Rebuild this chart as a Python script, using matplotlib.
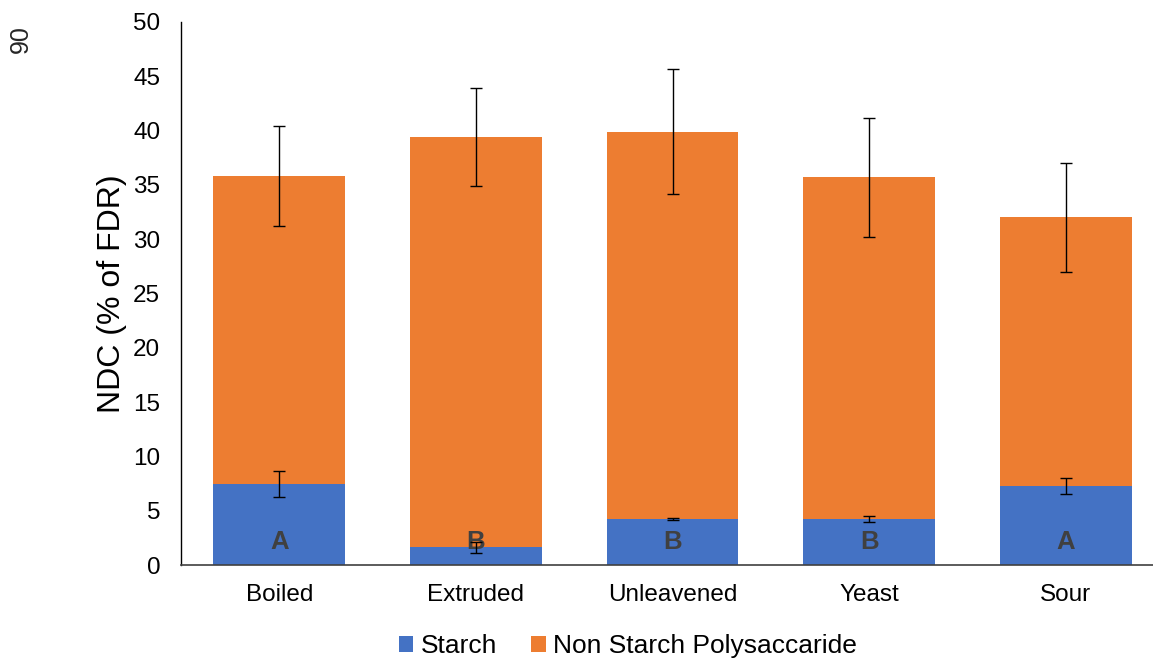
import numpy as np
import matplotlib.pyplot as plt

plt.rcParams['font.family'] = ['Liberation Sans', 'DejaVu Sans']

# --- data ---
categories = ['Boiled', 'Extruded', 'Unleavened', 'Yeast', 'Sour']
starch = [7.5, 1.65, 4.25, 4.25, 7.3]
starch_err = [1.2, 0.5, 0.12, 0.25, 0.72]
nsp = [28.3, 37.75, 35.65, 31.45, 24.7]
total_err = [4.6, 4.5, 5.75, 5.5, 5.0]
letters = ['A', 'B', 'B', 'B', 'A']

BLUE = '#4472C4'
ORANGE = '#ED7D31'

fig = plt.figure(figsize=(11.53, 6.61), dpi=100)
ax = fig.add_axes([181 / 1153, 1 - 565 / 661, (1164 - 181) / 1153, (565 - 22) / 661])

x = np.arange(len(categories))
width = 0.67
totals = np.array(starch) + np.array(nsp)

ax.bar(x, starch, width, color=BLUE, label='Starch', zorder=2)
ax.bar(x, nsp, width, bottom=starch, color=ORANGE, label='Non Starch Polysaccaride', zorder=2)

# letters inside the starch bars
for xi, lab in zip(x, letters):
    ax.text(xi, 2.15, lab, ha='center', va='center', fontsize=18.5,
            fontweight='bold', color='#404040', zorder=3)

# error bars
ax.errorbar(x, starch, yerr=starch_err, fmt='none', ecolor='black',
            elinewidth=1, capsize=4.5, capthick=1, zorder=4)
ax.errorbar(x, totals, yerr=total_err, fmt='none', ecolor='black',
            elinewidth=1, capsize=4.5, capthick=1, zorder=4)

ax.set_xlim(-0.5, 4.5)
ax.set_ylim(0, 50)
ax.set_yticks(range(0, 51, 5))
ax.set_xticks(x)
ax.set_xticklabels(categories)
ax.tick_params(axis='both', length=0, labelsize=17.5, colors='black')
ax.tick_params(axis='x', pad=14)
ax.tick_params(axis='y', pad=15)

ax.spines['top'].set_visible(False)
ax.spines['right'].set_visible(False)
ax.spines['left'].set_color('black')
ax.spines['left'].set_linewidth(1)
ax.spines['bottom'].set_color('#404040')
ax.spines['bottom'].set_linewidth(1.2)

ax.set_ylabel('NDC (% of FDR)', fontsize=23, labelpad=4)

fig.legend(loc='center', bbox_to_anchor=(628 / 1153, 1 - 646 / 661), ncol=2,
           frameon=False, fontsize=19, handlelength=0.55, handleheight=0.55,
           handletextpad=0.28, columnspacing=1.3)

# rotated page number in the corner
fig.text(21 / 1153, 1 - 39 / 661, '90', rotation=90, ha='center', va='center',
         fontsize=18, color='#262626')

fig.savefig('out.png', dpi=100)
